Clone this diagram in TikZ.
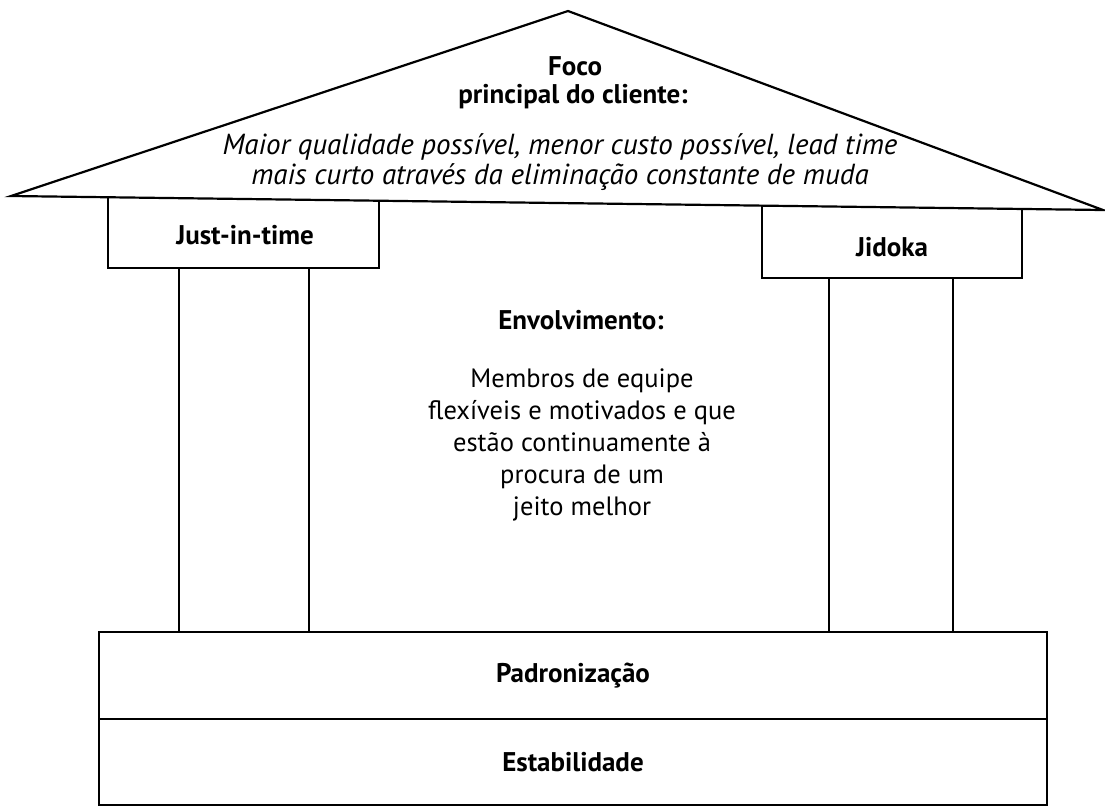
\documentclass[tikz,border=0pt]{standalone}
\usepackage{fontspec}
\setmainfont{PT Sans}
\begin{document}
\begin{tikzpicture}[x=1pt,y=-1pt,
  edge/.style={draw=black,line width=2.2pt,line join=miter},
  thin/.style={draw=black,line width=1.8pt},
  lbl/.style={font=\fontsize{27}{31}\selectfont\bfseries,inner sep=0pt,anchor=center},
  ital/.style={font=\fontsize{29}{30}\selectfont\itshape,inner sep=0pt,align=center},
  body/.style={font=\fontsize{26.5}{32}\selectfont,inner sep=0pt,align=center}]
\useasboundingbox (0,0) rectangle (1105,807);
% roof
\coordinate (rl) at (11,196);
\coordinate (ra) at (568,11);
\coordinate (rr) at (1103,210);
\draw[edge] (rl) -- (ra) -- (rr) -- cycle;
% Just-in-time box
\draw[thin] (108,197.2) -- (108,268) -- (379,268) -- (379,200.7);
% Jidoka box
\draw[thin] (762,205.6) -- (762,278) -- (1022,278) -- (1022,208.9);
% pillars
\draw[thin] (179,268) -- (179,632);
\draw[thin] (309,268) -- (309,632);
\draw[thin] (829,278) -- (829,632);
\draw[thin] (953,278) -- (953,632);
% base
\draw[edge] (99,632) rectangle (1047,805);
\draw[edge] (99,719) -- (1047,719);
% texts
\node[lbl] (foco) at (575,66) {Foco};
\node[lbl] (princ) at (573,97) {principal do cliente:};
\node[ital] (roof) at (560,162) {Maior qualidade possível, menor custo possível, lead time\\mais curto através da eliminação constante de muda};
\node[lbl] (jit) at (245,235) {Just-in-time};
\node[lbl] (jid) at (892,247) {Jidoka};
\node[lbl] (env) at (581,320) {Envolvimento:};
\node[body] (memb) at (582,445) {Membros de equipe\\flexíveis e motivados e que\\estão continuamente à\\procura de um\\jeito melhor};
\node[lbl] (pad) at (573,676) {Padronização};
\node[lbl] (est) at (573,762) {Estabilidade};
\end{tikzpicture}
\end{document}
